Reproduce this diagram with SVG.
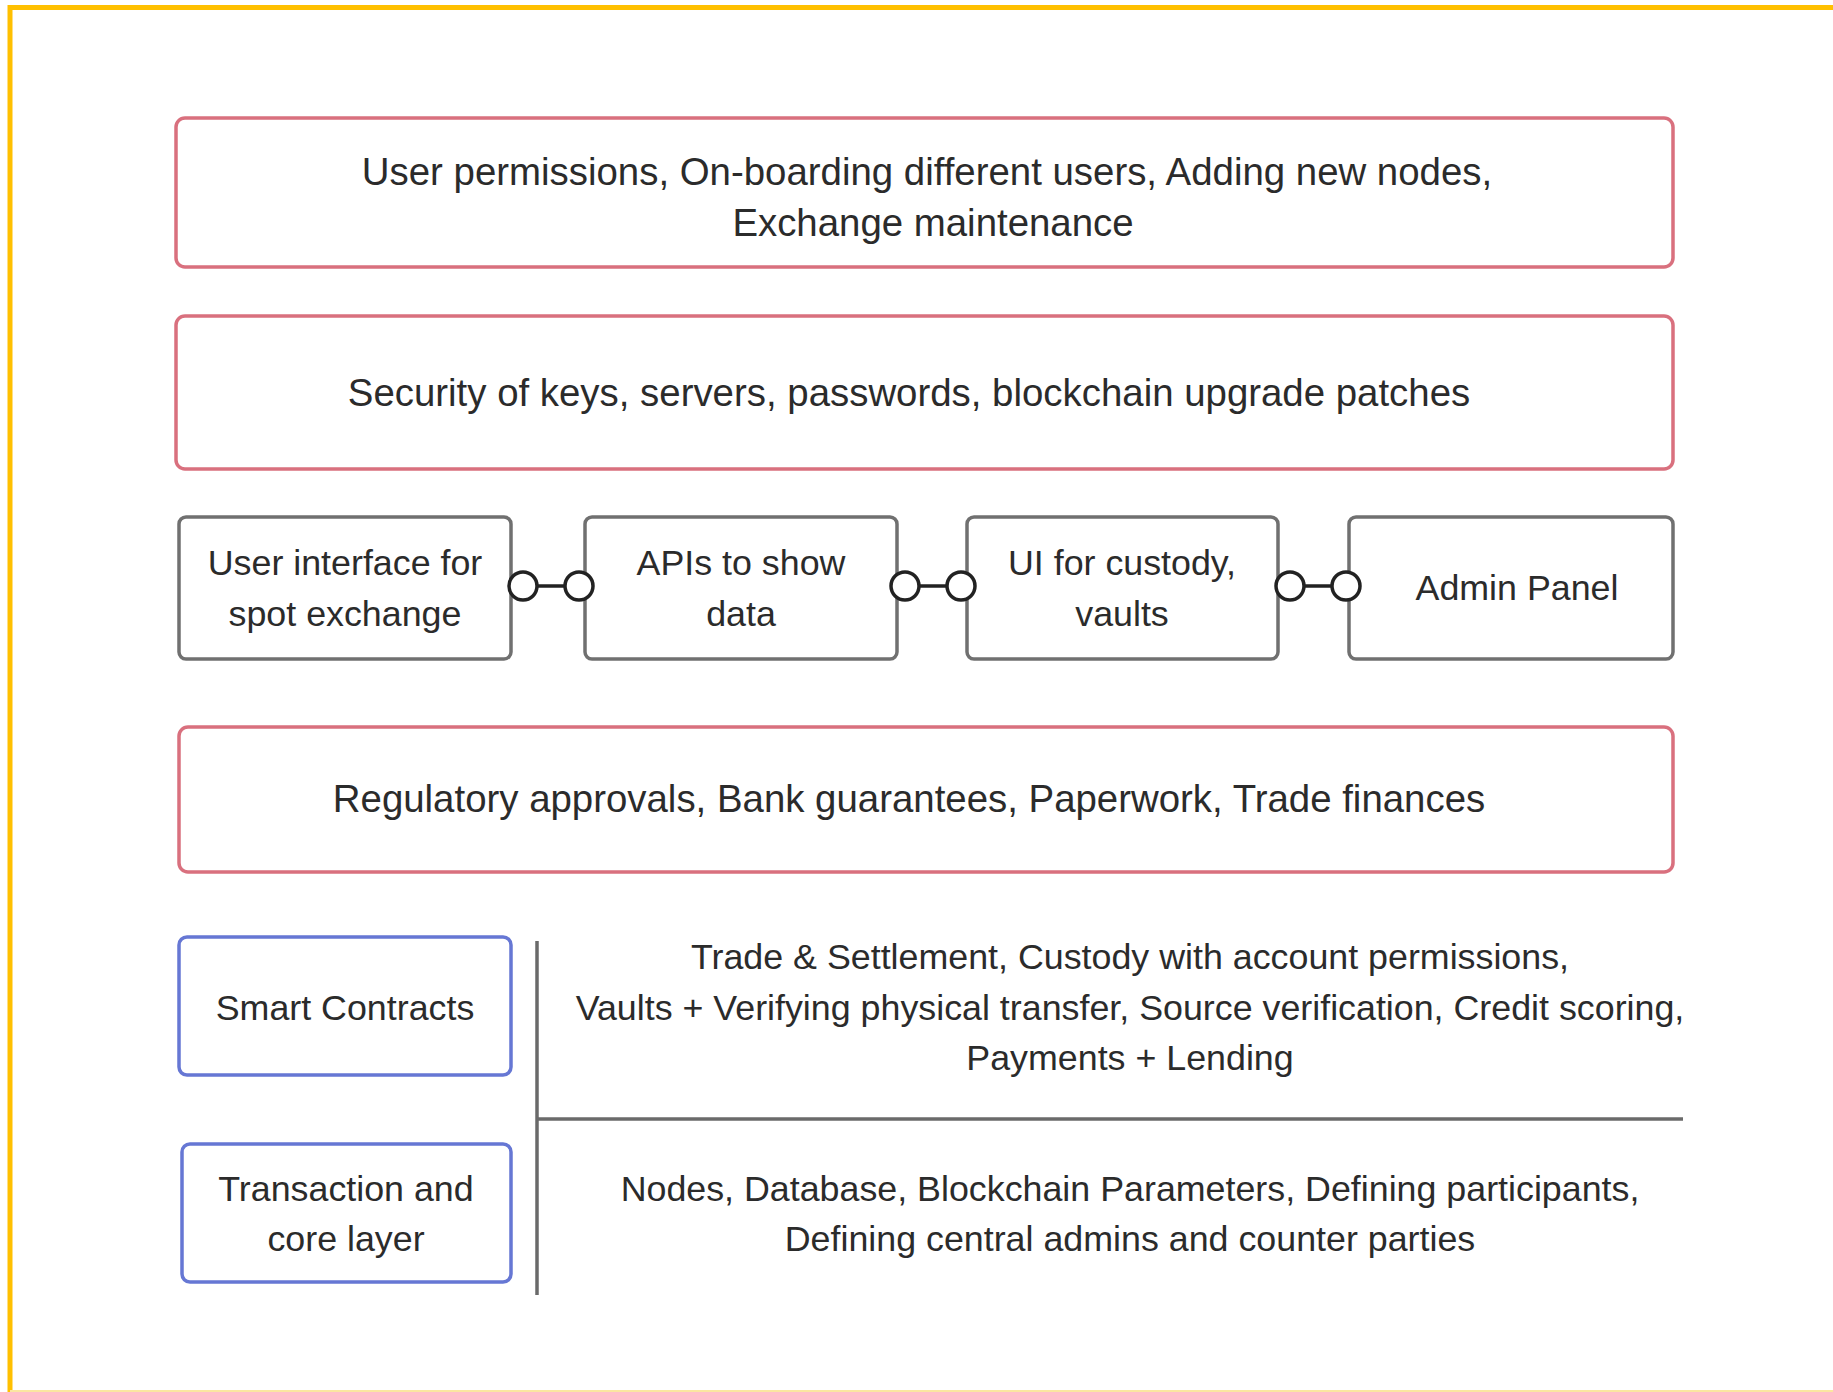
<svg xmlns="http://www.w3.org/2000/svg" width="1833" height="1392" viewBox="0 0 1833 1392">
  <style>
    .frame { fill: none; stroke: #ffc000; stroke-width: 5; }
    .red { fill: #ffffff; stroke: #d9707e; stroke-width: 3.5; }
    .gray { fill: #ffffff; stroke: #707070; stroke-width: 3.5; }
    .blue { fill: #ffffff; stroke: #6677d4; stroke-width: 3.5; }
    .lbl { font-family: "Liberation Sans", Arial, sans-serif; font-size: 35.8px; fill: #2b2b2b; text-anchor: middle; dominant-baseline: central; }
    .big { font-size: 38.4px; }
    .link { stroke: #222222; stroke-width: 3.5; fill: none; }
    .end { fill: #ffffff; stroke: #222222; stroke-width: 3.5; }
    .rule { stroke: #6a6a6a; stroke-width: 3.5; fill: none; }
  </style>
  <rect x="0" y="0" width="1833" height="1392" fill="#ffffff"/>
  <!-- outer frame: left and top edges, faint bottom -->
  <path class="frame" d="M10 1392 V7.5 H1833"/>
  <line x1="10" y1="1391" x2="1833" y2="1391" stroke="#fbe6a0" stroke-width="2"/>

  <g id="admin">
    <rect class="red" x="176" y="118" width="1497" height="149" rx="9"/>
    <text class="lbl big" x="927" y="171">User permissions, On-boarding different users, Adding new nodes,</text>
    <text class="lbl big" x="933" y="222">Exchange maintenance</text>
  </g>

  <g id="security">
    <rect class="red" x="176" y="316" width="1497" height="153" rx="9"/>
    <text class="lbl big" x="909" y="392">Security of keys, servers, passwords, blockchain upgrade patches</text>
  </g>

  <g id="ui-spot">
    <rect class="gray" x="179" y="517" width="332" height="142" rx="7"/>
    <text class="lbl" x="345" y="563">User interface for</text>
    <text class="lbl" x="345" y="614">spot exchange</text>
  </g>
  <g id="apis">
    <rect class="gray" x="585" y="517" width="312" height="142" rx="7"/>
    <text class="lbl" x="741" y="563">APIs to show</text>
    <text class="lbl" x="741" y="614">data</text>
  </g>
  <g id="ui-custody">
    <rect class="gray" x="967" y="517" width="311" height="142" rx="7"/>
    <text class="lbl" x="1122" y="563">UI for custody,</text>
    <text class="lbl" x="1122" y="614">vaults</text>
  </g>
  <g id="admin-panel">
    <rect class="gray" x="1349" y="517" width="324" height="142" rx="7"/>
    <text class="lbl" x="1517" y="588">Admin Panel</text>
  </g>

  <g id="regulatory">
    <rect class="red" x="179" y="727" width="1494" height="145" rx="9"/>
    <text class="lbl big" x="909" y="798">Regulatory approvals, Bank guarantees, Paperwork, Trade finances</text>
  </g>

  <g id="smart-contracts">
    <rect class="blue" x="179" y="937" width="332" height="138" rx="8"/>
    <text class="lbl" x="345" y="1008">Smart Contracts</text>
  </g>
  <g id="core-layer">
    <rect class="blue" x="182" y="1144" width="329" height="138" rx="8"/>
    <text class="lbl" x="346" y="1189">Transaction and</text>
    <text class="lbl" x="346" y="1239">core layer</text>
  </g>

  <g id="smart-contracts-detail">
    <text class="lbl" x="1130" y="957">Trade &amp; Settlement, Custody with account permissions,</text>
    <text class="lbl" x="1130" y="1008">Vaults + Verifying physical transfer, Source verification, Credit scoring,</text>
    <text class="lbl" x="1130" y="1058">Payments + Lending</text>
  </g>
  <g id="core-layer-detail">
    <text class="lbl" x="1130" y="1189">Nodes, Database, Blockchain Parameters, Defining participants,</text>
    <text class="lbl" x="1130" y="1239">Defining central admins and counter parties</text>
  </g>

  <g id="connectors">
    <line class="link" x1="537" y1="586" x2="565" y2="586"/>
    <circle class="end" cx="523" cy="586" r="14"/>
    <circle class="end" cx="579" cy="586" r="14"/>

    <line class="link" x1="919" y1="586" x2="947" y2="586"/>
    <circle class="end" cx="905" cy="586" r="14"/>
    <circle class="end" cx="961" cy="586" r="14"/>

    <line class="link" x1="1304" y1="586" x2="1332" y2="586"/>
    <circle class="end" cx="1290" cy="586" r="14"/>
    <circle class="end" cx="1346" cy="586" r="14"/>

    <!-- divider between layer names and their contents -->
    <line class="rule" x1="537" y1="941" x2="537" y2="1295"/>
    <line class="rule" x1="537" y1="1119" x2="1683" y2="1119"/>
  </g>
</svg>
